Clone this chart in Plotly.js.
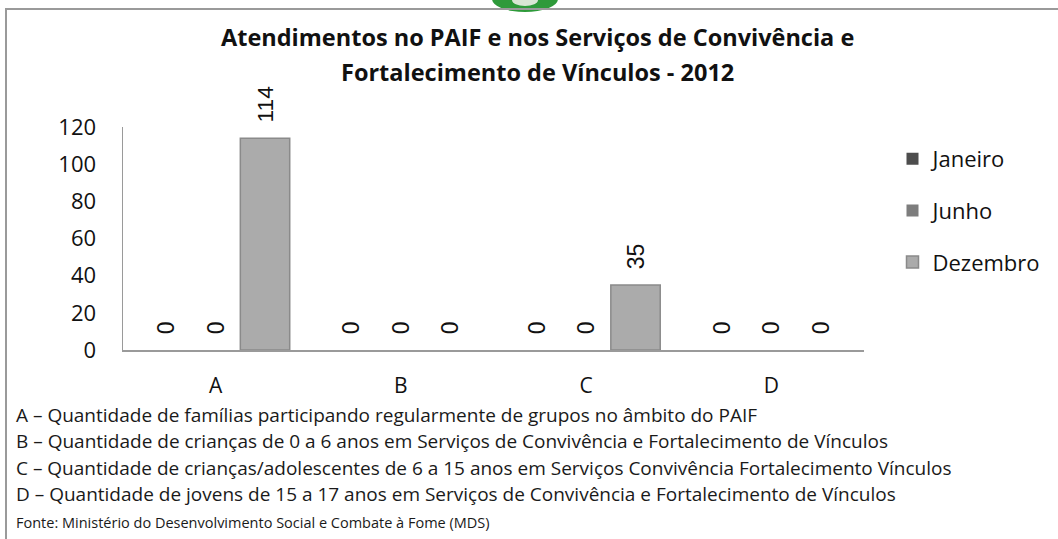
<!DOCTYPE html>
<html>
<head>
<meta charset="utf-8">
<script src="https://cdn.plot.ly/plotly-3.0.1.min.js"></script>
<style>
  html, body { margin: 0; padding: 0; background: #fff; }
  #wrap { position: relative; width: 1058px; height: 539px; overflow: hidden; }
  #frame { position: absolute; left: 5px; top: 8px; width: 1070px; height: 560px;
           border: 2px solid #9a9a9a; box-sizing: border-box; pointer-events: none; }
  #logo { position: absolute; left: 492px; top: -14px; width: 66px; height: 26px;
          border-radius: 50%; background: #2e9a3a; }
  #logo2 { position: absolute; left: 512px; top: -6px; width: 26px; height: 12px;
          border-radius: 50%; background: #d9e6d4; }
  #chart { position: absolute; left: 0; top: 0; width: 1058px; height: 539px; }
</style>
</head>
<body>
<div id="wrap">
  <div id="chart"></div>
  <div id="logo"></div><div id="logo2"></div>
  <div id="frame"></div>
</div>
<script>
// ---- data ----
const categories = ["A", "B", "C", "D"];
const seriesNames = ["Janeiro", "Junho", "Dezembro"];
const janeiro = [0, 0, 0, 0];
const junho = [0, 0, 0, 0];
const dezembro = [114, 0, 35, 0];
const yTicks = [0, 20, 40, 60, 80, 100, 120];
const titleLines = ["Atendimentos no PAIF e nos Serviços de Convivência e",
                    "Fortalecimento de Vínculos - 2012"];
const footnotes = [
  "A – Quantidade de famílias participando regularmente de grupos no âmbito do PAIF",
  "B – Quantidade de crianças de 0 a 6 anos em Serviços de Convivência e Fortalecimento de Vínculos",
  "C – Quantidade de crianças/adolescentes de 6 a 15 anos em Serviços Convivência Fortalecimento Vínculos",
  "D – Quantidade de jovens de 15 a 17 anos em Serviços de Convivência e Fortalecimento de Vínculos"
];
const sourceNote = "Fonte: Ministério do Desenvolvimento Social e Combate à Fome (MDS)";

// ---- styling ----
const seriesValues = [janeiro, junho, dezembro];
const fillColors = ["#4d4d4d", "#7d7d7d", "#ababab"];
const lineColors = ["#333333", "#5e5e5e", "#8a8a8a"];
const textFont = '"Open Sans", sans-serif';
const labelFont = '"Liberation Sans", Arial, sans-serif';

// plot area geometry (pixels)
const L = 123, R = 877, T = 127, B = 350;
const px2x = p => (p - L) / (R - L);
const px2y = p => (B - p) / (B - T);

const pad = "\u00A0\u00A0";
const traces = seriesNames.map((name, i) => ({
  type: "bar",
  name: name,
  x: categories,
  y: seriesValues[i],
  text: seriesValues[i].map(v => pad + v),
  textposition: "outside",
  textangle: -90,
  cliponaxis: false,
  textfont: { family: labelFont, size: 23, color: "#111" },
  marker: { color: fillColors[i],
            line: { color: lineColors[i], width: seriesValues[i].map(v => v > 0 ? 1.5 : 0) } },
  legendgroup: "g" + i,
  hoverinfo: "x+y+name"
}));

const annotations = footnotes.map((t, i) => ({
  text: t, xref: "paper", yref: "paper",
  x: px2x(12), y: px2y(415 + i * 26.3),
  xanchor: "left", yanchor: "middle", showarrow: false,
  font: { family: textFont, size: 19, color: "#1a1a1a" }
}));
annotations.push({
  text: sourceNote, xref: "paper", yref: "paper",
  x: px2x(12), y: px2y(522),
  xanchor: "left", yanchor: "middle", showarrow: false,
  font: { family: textFont, size: 14.5, color: "#1a1a1a" }
});
titleLines.forEach((t, i) => annotations.push({
  text: "<b>" + t + "</b>", xref: "paper", yref: "paper",
  x: px2x(545), y: px2y(37 + i * 35),
  xanchor: "center", yanchor: "middle", showarrow: false,
  font: { family: textFont, size: 23.5, color: "#111" }
}));

const layout = {
  width: 1058, height: 539,
  margin: { l: L, r: 1058 - R, t: T, b: 539 - B, pad: 0 },
  paper_bgcolor: "#ffffff", plot_bgcolor: "#ffffff",
  barmode: "group", bargap: 0.2, bargroupgap: 0,
  showlegend: true,
  legend: {
    x: px2x(906), y: px2y(138), xanchor: "left", yanchor: "top",
    font: { family: textFont, size: 22, color: "#111" },
    tracegroupgap: 20, itemwidth: 30,
    bgcolor: "rgba(0,0,0,0)"
  },
  xaxis: {
    type: "category", showline: true, linecolor: "#9a9a9a", linewidth: 1.5,
    ticks: "", showgrid: false, zeroline: false,
    ticklabelstandoff: 16,
    tickfont: { family: textFont, size: 21, color: "#111" }
  },
  yaxis: {
    range: [0, 120], tickvals: yTicks, ticktext: yTicks.map(String),
    showline: true, linecolor: "#9a9a9a", linewidth: 1.5,
    ticks: "", showgrid: false, zeroline: false,
    ticklabelstandoff: 21,
    tickfont: { family: textFont, size: 22, color: "#111" }
  },
  annotations: annotations
};

Plotly.newPlot("chart", traces, layout, { displayModeBar: false, staticPlot: true });
</script>
</body>
</html>
